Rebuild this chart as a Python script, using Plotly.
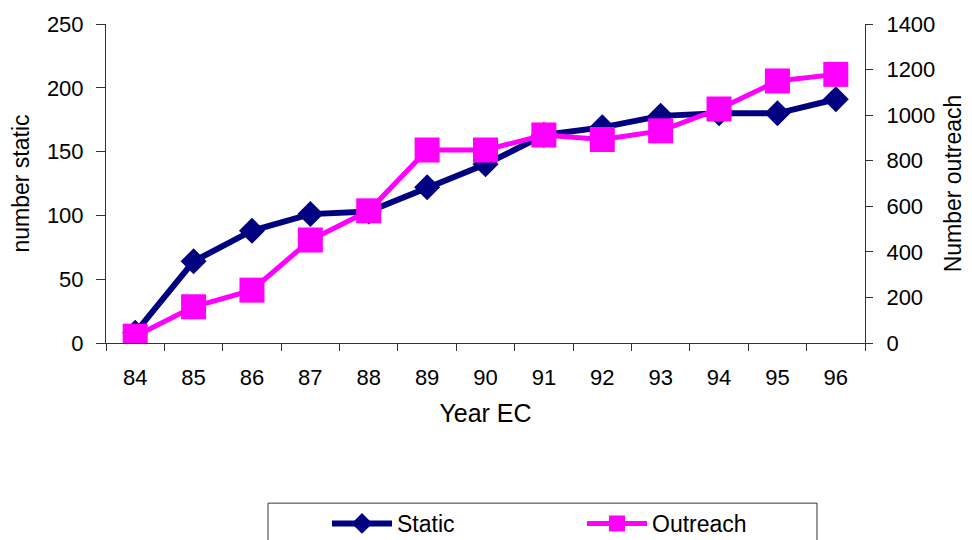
import plotly.graph_objects as go

years = ["84", "85", "86", "87", "88", "89", "90", "91", "92", "93", "94", "95", "96"]
static = [8, 64, 88, 101, 103, 122, 140, 163, 169, 178, 180, 180, 191]
outreach = [30, 159, 232, 452, 580, 847, 847, 913, 893, 931, 1027, 1150, 1179]

left_ticks = [0, 50, 100, 150, 200, 250]
right_ticks = [0, 200, 400, 600, 800, 1000, 1200, 1400]

NAVY = "#000080"
MAGENTA = "#FF00FF"
FONT = "Liberation Sans, Arial, sans-serif"

fig = go.Figure()
fig.add_trace(go.Scatter(
    x=years, y=static, name="Static", mode="lines+markers",
    line=dict(color=NAVY, width=6),
    marker=dict(symbol="diamond", size=20, color=NAVY),
    yaxis="y",
))
fig.add_trace(go.Scatter(
    x=years, y=outreach, name="Outreach", mode="lines+markers",
    line=dict(color=MAGENTA, width=5),
    marker=dict(symbol="square", size=25, color=MAGENTA),
    yaxis="y2",
))

axis_common = dict(
    showgrid=False, zeroline=False, showline=True, linecolor="#333333", linewidth=1,
    ticks="outside", tickcolor="#333333", automargin=False,
    tickfont=dict(family=FONT, size=22, color="black"),
)

fig.update_layout(
    width=972, height=540,
    margin=dict(l=106, r=107, t=24, b=197),
    paper_bgcolor="white", plot_bgcolor="white",
    font=dict(family=FONT, color="black"),
    xaxis=dict(
        type="category", range=[-0.5, 12.5], tickson="boundaries",
        ticklen=7, ticklabelstandoff=15,
        title=dict(text="Year EC", font=dict(family=FONT, size=25), standoff=15),
        **axis_common,
    ),
    yaxis=dict(
        range=[0, 250], tickvals=left_ticks, ticklen=9, ticklabelstandoff=8,
        title=dict(text="number static", font=dict(family=FONT, size=23), standoff=10),
        **axis_common,
    ),
    yaxis2=dict(
        range=[0, 1400], tickvals=right_ticks, overlaying="y", side="right",
        ticklen=7, ticklabelstandoff=9,
        title=dict(text="Number outreach", font=dict(family=FONT, size=23), standoff=10),
        **axis_common,
    ),
    showlegend=True,
    legend=dict(
        orientation="h", xref="container", yref="container",
        x=327 / 972, y=1 - 502 / 540, xanchor="left", yanchor="top",
        itemwidth=60, entrywidth=180, entrywidthmode="pixels",
        font=dict(family=FONT, size=23), bgcolor="rgba(0,0,0,0)", borderwidth=0,
    ),
    shapes=[dict(
        type="rect", xref="paper", yref="paper",
        x0=(268 - 106) / 759, x1=(817 - 106) / 759,
        y0=-0.502, y1=-0.68,
        line=dict(color="#333333", width=1), fillcolor="rgba(0,0,0,0)",
    )],
)

fig.write_html("out.html")
